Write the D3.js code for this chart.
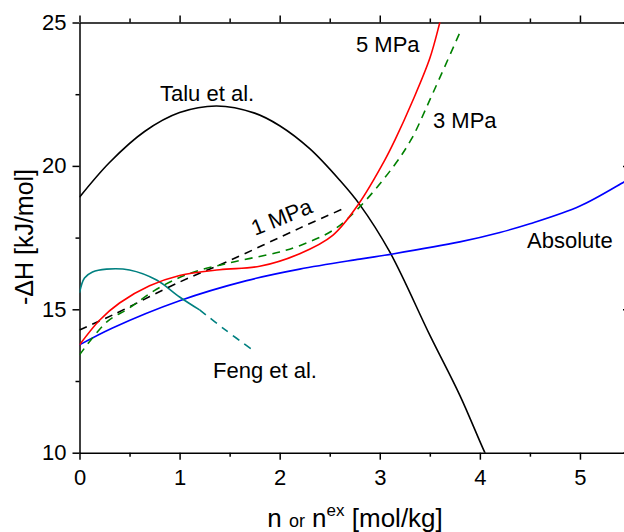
<!DOCTYPE html>
<html>
<head>
<meta charset="utf-8">
<script src="https://cdn.jsdelivr.net/npm/d3@7"></script>
<style>
  body { margin: 0; background: #fff; }
  svg { display: block; font-family: Arial, "Liberation Sans", sans-serif; }
</style>
</head>
<body>
<div id="chart"></div>
<script>
// =======================
// -dH vs loading (n or n_ex)
// =======================

// Curves: [n, -dH]
const taluData = [[0, 18.91], [0.3, 20.12], [0.65, 21.2], [1.0, 21.86], [1.37, 22.09], [1.75, 21.84],
  [2.0, 21.4], [2.3, 20.6], [2.6, 19.5], [2.8, 18.65], [3.1, 17.0], [3.5, 14.1], [3.8, 12.0],
  [4.05, 10.0], [4.2, 8.9]];
const absoluteData = [[0, 13.76], [0.33, 14.35], [1.0, 15.3], [1.67, 16.0], [2.2, 16.4], [2.8, 16.75],
  [3.13, 16.93], [3.8, 17.35], [4.2, 17.68], [4.5, 17.98], [5.0, 18.6], [5.44, 19.44], [5.5, 19.56]];
const mpa5Data = [[0, 13.76], [0.2, 14.62], [0.4, 15.22], [0.7, 15.82], [1.0, 16.18], [1.4, 16.38],
  [1.8, 16.5], [2.2, 16.94], [2.53, 17.58], [2.79, 18.68], [3.05, 20.2], [3.15, 20.89], [3.33, 22.28],
  [3.5, 23.75], [3.6, 25.0], [3.65, 25.7]];
const mpa3Data = [[0, 13.41], [0.27, 14.55], [0.5, 15.05], [0.77, 15.7], [1.1, 16.25], [1.5, 16.62],
  [2.0, 17.0], [2.2, 17.22], [2.53, 17.75], [2.78, 18.5], [3.13, 19.95], [3.32, 20.96], [3.5, 22.3],
  [3.8, 24.65]];
const mpa1Data = [[0, 14.28], [0.33, 14.8], [1.0, 15.95], [1.5, 16.7], [2.2, 17.83], [2.65, 18.53]];
const fengSolid = [[0, 15.57], [0.05, 16.09], [0.13, 16.3], [0.27, 16.4], [0.5, 16.37], [0.77, 16.02],
  [1.0, 15.43], [1.2, 14.98]];
const fengDashed = [[1.2, 14.98], [1.45, 14.3], [1.73, 13.58]];

// Tick values
const xTicks = [0, 1, 2, 3, 4, 5];
const xMinor = [0.5, 1.5, 2.5, 3.5, 4.5, 5.5];
const yTicks = [10, 15, 20, 25];
const yMinor = [12.5, 17.5, 22.5];

const width = 624, height = 532;

const svg = d3.select("#chart")
  .append("svg")
    .attr("width", width)
    .attr("height", height);

// Scales
const x = d3.scaleLinear().domain([0, 5.5]).range([79.5, 630]);
const y = d3.scaleLinear().domain([10, 25]).range([452.7, 22.5]);

// Clip for curves
svg.append("clipPath").attr("id", "plot")
  .append("rect")
    .attr("x", x(0)).attr("y", y(25))
    .attr("width", x(5.5) - x(0)).attr("height", y(10) - y(25));

// Axes
const styleAxis = g => {
  g.selectAll("path, line").attr("stroke", "#000").attr("stroke-width", 1.5);
  g.selectAll("text").attr("fill", "#000").attr("font-family", null).style("font-size", "22px");
};

// bottom
svg.append("g")
  .attr("transform", `translate(0,${y(10)})`)
  .call(d3.axisBottom(x).tickValues(xTicks).tickFormat(d3.format("d")).tickSize(7).tickSizeOuter(0).tickPadding(10))
  .call(styleAxis);
svg.append("g")
  .attr("transform", `translate(0,${y(10)})`)
  .call(d3.axisBottom(x).tickValues(xMinor).tickSize(4).tickFormat(""))
  .call(styleAxis)
  .call(g => g.select(".domain").remove());

// top
svg.append("g")
  .attr("transform", `translate(0,${y(25)})`)
  .call(d3.axisBottom(x).tickValues(xTicks).tickSize(-7).tickSizeOuter(0).tickFormat(""))
  .call(styleAxis);
svg.append("g")
  .attr("transform", `translate(0,${y(25)})`)
  .call(d3.axisBottom(x).tickValues(xMinor).tickSize(-4).tickFormat(""))
  .call(styleAxis)
  .call(g => g.select(".domain").remove());

// left
svg.append("g")
  .attr("transform", `translate(${x(0)},0)`)
  .call(d3.axisLeft(y).tickValues(yTicks).tickSize(7).tickSizeOuter(0).tickPadding(6))
  .call(styleAxis);
svg.append("g")
  .attr("transform", `translate(${x(0)},0)`)
  .call(d3.axisLeft(y).tickValues(yMinor).tickSize(4).tickFormat(""))
  .call(styleAxis)
  .call(g => g.select(".domain").remove());

// right
svg.append("g")
  .attr("transform", `translate(${x(5.5)},0)`)
  .call(d3.axisRight(y).tickValues(yTicks).tickSize(-7).tickSizeOuter(0).tickFormat(""))
  .call(styleAxis);

// Curves
const line = d3.line()
  .x(d => x(d[0]))
  .y(d => y(d[1]))
  .curve(d3.curveCatmullRom.alpha(0.5));

const curves = svg.append("g").attr("clip-path", "url(#plot)");

const series = [
  { data: taluData, color: "#000000", dash: null },
  { data: absoluteData, color: "#0000ff", dash: null },
  { data: fengSolid, color: "#008080", dash: null },
  { data: fengDashed, color: "#008080", dash: "8,6" },
  { data: mpa1Data, color: "#000000", dash: "8,6" },
  { data: mpa3Data, color: "#008000", dash: "8,6" },
  { data: mpa5Data, color: "#ff0000", dash: null }
];

curves.selectAll("path")
  .data(series)
  .enter()
  .append("path")
    .attr("d", d => line(d.data))
    .attr("fill", "none")
    .attr("stroke", d => d.color)
    .attr("stroke-width", 1.6)
    .attr("stroke-dasharray", d => d.dash);

// Annotations
const notes = [
  { text: "Talu et al.", x: 160, y: 101, rot: 0 },
  { text: "5 MPa", x: 356, y: 52, rot: 0 },
  { text: "3 MPa", x: 433, y: 128, rot: 0 },
  { text: "Absolute", x: 527, y: 248, rot: 0 },
  { text: "Feng et al.", x: 213, y: 378, rot: 0 },
  { text: "1 MPa", x: 255, y: 236, rot: -22 }
];

svg.selectAll(".note")
  .data(notes)
  .enter()
  .append("text")
    .attr("class", "note")
    .attr("transform", d => `translate(${d.x},${d.y}) rotate(${d.rot})`)
    .style("font-size", "22px")
    .attr("fill", "#000")
    .text(d => d.text);

// Axis labels
svg.append("text")
  .attr("transform", `translate(33,237) rotate(-90)`)
  .attr("text-anchor", "middle")
  .style("font-size", "25px")
  .text("-ΔH [kJ/mol]");

const xl = svg.append("text")
  .attr("x", 355)
  .attr("y", 527)
  .attr("text-anchor", "middle")
  .style("font-size", "26px");
xl.append("tspan").text("n ");
xl.append("tspan").style("font-size", "18px").text("or");
xl.append("tspan").text(" n");
xl.append("tspan").style("font-size", "17px").attr("dy", -11).text("ex");
xl.append("tspan").attr("dy", 11).text(" [mol/kg]");
</script>
</body>
</html>
